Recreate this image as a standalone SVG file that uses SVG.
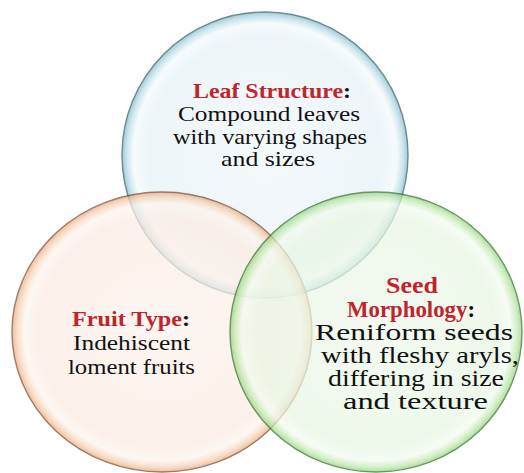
<svg xmlns="http://www.w3.org/2000/svg" width="524" height="473" viewBox="0 0 524 473">
<style>
text{font-family:'Liberation Serif','DejaVu Serif',serif;font-size:22px;fill:#111;text-anchor:middle}
.s{font-size:23px}
.h{font-weight:bold;fill:#c0242c}
.c{font-weight:bold;fill:#111}
.bub{opacity:0.72}
</style>
<defs>
<radialGradient id="gBlue" cx="0.5" cy="0.5" r="0.5">
<stop offset="0" stop-color="#f2f8fb"/>
<stop offset="0.82" stop-color="#e6f2f7"/>
<stop offset="0.92" stop-color="#f4fafc"/>
<stop offset="0.965" stop-color="#bcdde8"/>
<stop offset="1" stop-color="#7fb6c6"/>
</radialGradient>
<radialGradient id="gOrange" cx="0.5" cy="0.5" r="0.5">
<stop offset="0" stop-color="#fdf3ee"/>
<stop offset="0.82" stop-color="#fcece2"/>
<stop offset="0.92" stop-color="#fdf4ee"/>
<stop offset="0.965" stop-color="#f7d2b6"/>
<stop offset="1" stop-color="#e6a77e"/>
</radialGradient>
<radialGradient id="gGreen" cx="0.5" cy="0.5" r="0.5">
<stop offset="0" stop-color="#f1f9ee"/>
<stop offset="0.82" stop-color="#e8f6e3"/>
<stop offset="0.92" stop-color="#f3fbf0"/>
<stop offset="0.965" stop-color="#c4eab4"/>
<stop offset="1" stop-color="#8fd27a"/>
</radialGradient>
</defs>
<rect width="524" height="473" fill="#ffffff"/>
<g id="circles">
<g id="leaf-circle" class="bub"><ellipse cx="265" cy="155" rx="143" ry="143" fill="url(#gBlue)" stroke="#2f5f6c" stroke-width="1.4"/></g>
<g id="fruit-circle" class="bub"><ellipse cx="162" cy="332" rx="150" ry="140" fill="url(#gOrange)" stroke="#7a4a2a" stroke-width="1.4"/></g>
<g id="seed-circle" class="bub"><ellipse cx="376" cy="332" rx="146" ry="140" fill="url(#gGreen)" stroke="#3a6e32" stroke-width="1.4"/></g>
</g>
<g id="leaf">
<text x="272" y="98" textLength="158" lengthAdjust="spacingAndGlyphs"><tspan class="h">Leaf Structure</tspan><tspan class="c">:</tspan></text>
<text x="269" y="121" textLength="182" lengthAdjust="spacingAndGlyphs">Compound leaves</text>
<text x="270" y="143.5" textLength="194" lengthAdjust="spacingAndGlyphs">with varying shapes</text>
<text x="268" y="166" textLength="94" lengthAdjust="spacingAndGlyphs">and sizes</text>
</g>
<g id="fruit">
<text x="131" y="326" textLength="118" lengthAdjust="spacingAndGlyphs"><tspan class="h">Fruit Type</tspan><tspan class="c">:</tspan></text>
<text x="131.5" y="350" textLength="117" lengthAdjust="spacingAndGlyphs">Indehiscent</text>
<text x="131.5" y="374" textLength="127" lengthAdjust="spacingAndGlyphs">loment fruits</text>
</g>
<g id="seed">
<text class="s" x="412" y="293" textLength="52" lengthAdjust="spacingAndGlyphs"><tspan class="h">Seed</tspan></text>
<text class="s" x="411" y="317" textLength="128" lengthAdjust="spacingAndGlyphs"><tspan class="h">Morphology</tspan><tspan class="c">:</tspan></text>
<text class="s" x="414" y="340" textLength="198" lengthAdjust="spacingAndGlyphs">Reniform seeds</text>
<text class="s" x="420" y="363" textLength="198" lengthAdjust="spacingAndGlyphs">with fleshy aryls,</text>
<text class="s" x="416" y="386" textLength="176" lengthAdjust="spacingAndGlyphs">differing in size</text>
<text class="s" x="415.5" y="409" textLength="145" lengthAdjust="spacingAndGlyphs">and texture</text>
</g>
</svg>
